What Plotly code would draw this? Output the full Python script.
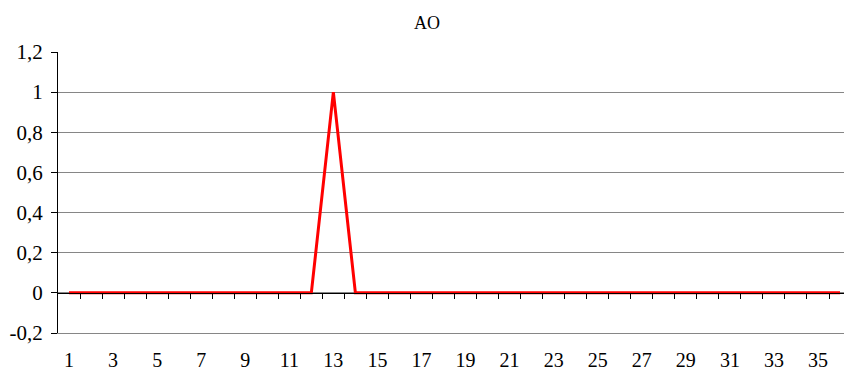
import plotly.graph_objects as go

# Series data
categories = list(range(1, 37))
values = [0] * 12 + [1] + [0] * 23
x_tick_labels = [str(c) for c in range(1, 36, 2)]
y_tick_values = [-0.2, 0, 0.2, 0.4, 0.6, 0.8, 1.0, 1.2]
y_tick_labels = ["-0,2", "0", "0,2", "0,4", "0,6", "0,8", "1", "1,2"]

FONT = "Liberation Serif"
GRID = "#868686"

fig = go.Figure()
fig.add_trace(go.Scatter(
    x=categories, y=values, mode="lines",
    line=dict(color="#FF0000", width=3), showlegend=False, hoverinfo="skip",
))
# Invisible trace bound to the secondary x axis so it renders
fig.add_trace(go.Scatter(
    x=[categories[0]], y=[0], xaxis="x2", mode="markers",
    marker=dict(opacity=0), showlegend=False, hoverinfo="skip",
))

x_range = [0.5, 36.18]

fig.update_layout(
    width=844, height=373,
    margin=dict(l=58, r=0, t=52, b=40),
    paper_bgcolor="white", plot_bgcolor="white",
    font=dict(family=FONT, size=21, color="black"),
    title=dict(text="AO", x=0.506, xanchor="center", y=0.94, yanchor="middle",
               font=dict(family=FONT, size=18, color="black")),
    xaxis=dict(
        range=x_range, tickmode="array",
        tickvals=[int(t) for t in x_tick_labels], ticktext=x_tick_labels,
        tickfont=dict(family=FONT, size=20, color="black"),
        showgrid=False, zeroline=False, showline=True, linecolor=GRID, linewidth=1,
        ticks="", ticklabelstandoff=9, automargin=False,
    ),
    xaxis2=dict(
        range=x_range, overlaying="x", anchor="free", position=1 / 7,
        tickmode="array", tickvals=[c + 0.5 for c in categories],
        showticklabels=False, showgrid=False, zeroline=False,
        showline=True, linecolor="black", linewidth=1,
        ticks="outside", ticklen=5, tickcolor="black", tickwidth=1,
        automargin=False,
    ),
    yaxis=dict(
        range=[-0.2, 1.2], tickmode="array",
        tickvals=y_tick_values, ticktext=y_tick_labels,
        showgrid=True, gridcolor=GRID, gridwidth=1, zeroline=False,
        showline=True, linecolor="black", linewidth=1,
        ticks="outside", ticklen=6, tickcolor="black", ticklabelstandoff=4,
        automargin=False,
    ),
)

fig.write_html("out.html")
